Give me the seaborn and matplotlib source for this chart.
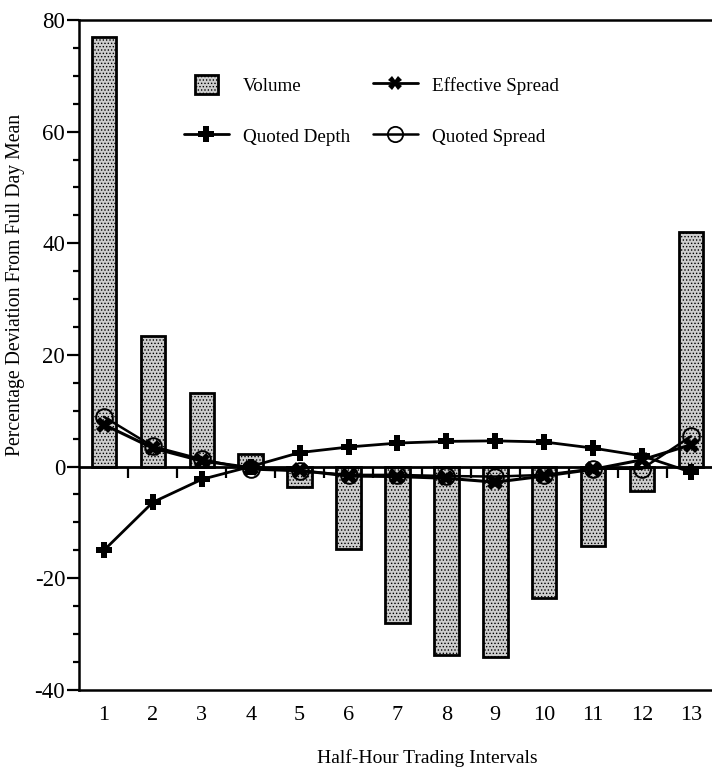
import matplotlib
matplotlib.use('agg')
from matplotlib import pyplot as plt
from matplotlib.lines import Line2D
from matplotlib.patches import Patch
import matplotlib.ticker as plticker
import seaborn as sns
import numpy as np
import pandas as pd

intervals = list(range(1, 14))
volume = [77.0, 23.3, 13.1, 2.3, -3.6, -14.8, -28.0, -33.8, -34.1, -23.6, -14.2, -4.4, 42.1]
quoted_depth = [-15.0, -6.4, -2.3, 0.0, 2.5, 3.5, 4.2, 4.5, 4.6, 4.4, 3.3, 1.9, -1.0]
effective_spread = [7.5, 3.3, 1.0, -0.2, -0.7, -1.7, -1.8, -2.1, -2.8, -1.7, -0.5, 1.2, 3.9]
quoted_spread = [8.9, 3.6, 1.3, -0.5, -0.8, -1.5, -1.5, -1.7, -1.8, -1.5, -0.4, -0.4, 5.4]


def plt_init():
    sns.set_style('ticks')
    plt.rcParams['font.family'] = ['Liberation Serif', 'DejaVu Serif']
    plt.rcParams['hatch.color'] = '#6e6e6e'
    plt.rcParams['hatch.linewidth'] = 0.6
    plt.rcParams['axes.linewidth'] = 1.8
    plt.rcParams['axes.unicode_minus'] = False
    for key in ('text.color', 'axes.labelcolor', 'xtick.color', 'ytick.color', 'axes.edgecolor'):
        plt.rcParams[key] = 'black'


plt_init()
df = pd.DataFrame({'interval': intervals, 'volume': volume, 'depth': quoted_depth,
                   'eff': effective_spread, 'qs': quoted_spread})

fig = plt.figure(figsize=(7.12, 7.69), dpi=100)
ax = fig.add_axes([0.111, 0.103, 0.889, 0.871])

sns.barplot(data=df, x='interval', y='volume', native_scale=True, width=0.5,
            color='#cdcdcd', saturation=1, edgecolor='black', linewidth=2, ax=ax, zorder=2)
for p in ax.patches:
    p.set_hatch('.....')

# zero line with ticks at interval boundaries
ax.axhline(0, color='black', lw=2, zorder=3)
bounds = np.array(intervals[:-1]) + 0.5
ax.vlines(bounds, -2.1, 0, color='black', lw=1.6, zorder=3)

sns.lineplot(data=df, x='interval', y='depth', color='black', lw=2, marker='P', markersize=12,
             markeredgewidth=0, ax=ax, zorder=5)
sns.lineplot(data=df, x='interval', y='eff', color='black', lw=2.2, marker='X', markersize=11,
             markeredgewidth=0, ax=ax, zorder=5)
sns.lineplot(data=df, x='interval', y='qs', color='black', lw=1.8, marker='o', markersize=12,
             markerfacecolor='none', markeredgecolor='black', markeredgewidth=1.4, ax=ax, zorder=6)

ax.set_xlim(0.49, 13.43)
ax.set_ylim(-40, 80)
ax.set_xticks(intervals)
ax.set_xticklabels([str(i) for i in intervals])
ax.yaxis.set_major_locator(plticker.MultipleLocator(20))
ax.yaxis.set_minor_locator(plticker.MultipleLocator(5))
ax.tick_params(axis='x', length=0, pad=12, labelsize=16)
ax.tick_params(axis='y', which='major', length=9, width=1.6, direction='out', pad=1, labelsize=16.5)
ax.tick_params(axis='y', which='minor', length=4.5, width=1.6, direction='out')
ax.spines['right'].set_visible(False)
ax.set_xlabel('Half-Hour Trading Intervals', fontsize=14)
ax.set_ylabel('Percentage Deviation From Full Day Mean', fontsize=14.2)
ax.xaxis.set_label_coords(0.55, -0.088)
ax.yaxis.set_label_coords(-0.085, 0.604)

handles = [
    Patch(facecolor='#cdcdcd', edgecolor='black', linewidth=2, hatch='.....'),
    Line2D([], [], color='black', lw=2, marker='P', markersize=11, markeredgewidth=0),
    Line2D([], [], color='black', lw=2, marker='X', markersize=10, markeredgewidth=0),
    Line2D([], [], color='black', lw=1.8, marker='o', markersize=11, markerfacecolor='none',
           markeredgewidth=1.3),
]
labels = ['Volume', 'Quoted Depth', 'Effective Spread', 'Quoted Spread']
leg = ax.legend(handles, labels, ncol=2, loc='upper left', bbox_to_anchor=(0.139, 0.943), frameon=False,
                fontsize=13.7, handlelength=2.35, handleheight=1.1, columnspacing=1.2, labelspacing=1.65,
                handletextpad=0.75)
# the volume square in the reference is narrower than the line handles
vol_handle = leg.legend_handles[0]
w = vol_handle.get_width()
vol_handle.set_width(w * 0.5)
vol_handle.set_x(vol_handle.get_x() + w * 0.25)

fig.savefig('out.png', dpi=100)
plt.close(fig)
